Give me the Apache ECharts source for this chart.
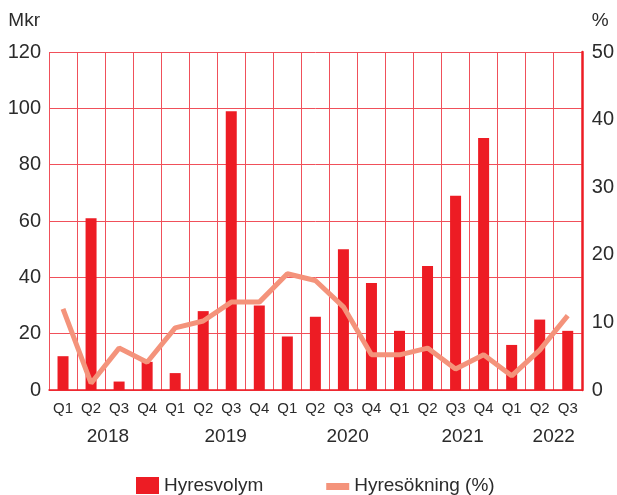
<!DOCTYPE html>
<html>
<head>
    <meta charset="utf-8">
    <title>Hyresvolym och hyresökning</title>
    <script src="https://cdn.jsdelivr.net/npm/echarts@6/dist/echarts.min.js"></script>
    <style>
        html, body { margin: 0; padding: 0; background: #fff; }
        #main { width: 617px; height: 495px; }
    </style>
</head>
<body>
    <div id="main"></div>
    <script type="text/javascript">
        // kvartal 2018 Q1 - 2022 Q3
        var quarters = ['Q1', 'Q2', 'Q3', 'Q4', 'Q1', 'Q2', 'Q3', 'Q4', 'Q1', 'Q2', 'Q3', 'Q4',
            'Q1', 'Q2', 'Q3', 'Q4', 'Q1', 'Q2', 'Q3'];
        var volume = [12, 61, 3, 10, 6, 28, 99, 30, 19, 26, 50, 38, 21, 44, 69, 89.5, 16, 25, 21];
        var growth = [12, 1, 6.2, 4.1, 9.2, 10.2, 13, 13, 17.2, 16.2, 12.3, 5.2, 5.2, 6.2, 3.1, 5.2, 2.1, 5.9, 11];
        var years = ['2018', '2019', '2020', '2021', '2022'];
        var yearPos = [2.1, 6.3, 10.65, 14.75, 18];
        var leftTicks = [0, 120, 20];
        var rightTicks = [0, 50, 10];

        var red = '#ed1c24';
        var gridRed = '#f0505a';
        var salmon = '#f4937b';
        var txt = '#2b2b2b';
        var font = 'Liberation Sans, Arial, sans-serif';

        // tjock linje som legendsymbol (små osynliga hörn ger rätt höjd)
        var lineIcon = 'path://M0,0h0.1v0.1h-0.1z M0,6h23v7h-23z M0,16.9h0.1v0.1h-0.1z';

        var chart = echarts.init(document.getElementById('main'));

        var option = {
            animation: false,
            textStyle: { fontFamily: font },
            grid: { left: 49, right: 34, top: 52, bottom: 105 },
            legend: {
                left: 131,
                top: 471,
                itemWidth: 23,
                itemHeight: 17,
                itemGap: 63,
                textStyle: { fontSize: 19, color: txt, fontFamily: font },
                data: [
                    { name: 'Hyresvolym', icon: 'rect' },
                    { name: 'Hyresökning (%)', icon: lineIcon }
                ]
            },
            xAxis: [
                {
                    type: 'category',
                    data: quarters,
                    axisLine: { lineStyle: { color: red, width: 1.5 } },
                    axisTick: { show: false },
                    axisLabel: { interval: 0, fontSize: 15, color: txt, margin: 11 },
                    splitLine: { show: true, interval: 0, lineStyle: { color: gridRed, width: 1 } }
                },
                {
                    type: 'value',
                    position: 'bottom',
                    offset: 28,
                    min: 0,
                    max: quarters.length,
                    axisLine: { show: false },
                    axisTick: { show: false },
                    splitLine: { show: false },
                    axisLabel: {
                        customValues: yearPos,
                        fontSize: 19,
                        color: txt,
                        margin: 9,
                        formatter: function (v) {
                            var i = yearPos.indexOf(v);
                            return i >= 0 ? years[i] : '';
                        }
                    }
                }
            ],
            yAxis: [
                {
                    type: 'value',
                    min: leftTicks[0],
                    max: leftTicks[1],
                    interval: leftTicks[2],
                    name: 'Mkr',
                    nameLocation: 'end',
                    nameGap: 22,
                    nameTextStyle: { fontSize: 19, color: txt, align: 'right', padding: [0, 9, 0, 0] },
                    axisLine: { show: false },
                    axisTick: { show: false },
                    axisLabel: { fontSize: 20, color: txt, margin: 8 },
                    splitLine: { lineStyle: { color: gridRed, width: 1 } }
                },
                {
                    type: 'value',
                    min: rightTicks[0],
                    max: rightTicks[1],
                    interval: rightTicks[2],
                    name: '%',
                    nameLocation: 'end',
                    nameGap: 22,
                    nameTextStyle: { fontSize: 19, color: txt, align: 'left', padding: [0, 0, 0, 10] },
                    axisLine: { show: true, lineStyle: { color: red, width: 2.5 } },
                    axisTick: { show: false },
                    axisLabel: { fontSize: 20, color: txt, margin: 10 },
                    splitLine: { show: false }
                }
            ],
            series: [
                {
                    name: 'Hyresvolym',
                    type: 'bar',
                    data: volume,
                    barWidth: 11,
                    itemStyle: { color: red }
                },
                {
                    name: 'Hyresökning (%)',
                    type: 'line',
                    yAxisIndex: 1,
                    data: growth,
                    symbol: 'none',
                    lineStyle: { color: salmon, width: 5 },
                    itemStyle: { color: salmon }
                }
            ]
        };

        chart.setOption(option);
    </script>
</body>
</html>
